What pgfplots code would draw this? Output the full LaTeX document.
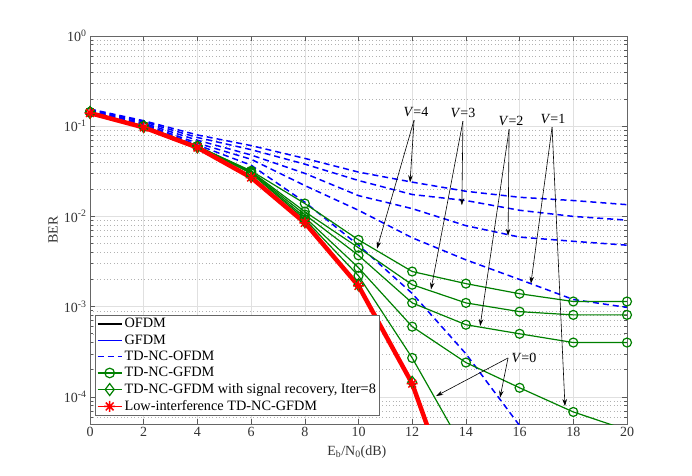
\documentclass[border=0pt]{standalone}
\usepackage{fontspec}
\setmainfont{Liberation Serif}
\usepackage{pgfplots}
\pgfplotsset{compat=1.18}
\usetikzlibrary{arrows.meta}
\definecolor{mgreen}{RGB}{0,128,0}
\definecolor{mblue}{RGB}{0,0,255}
\definecolor{mred}{RGB}{255,0,0}
\newcommand\legfont{\fontsize{14.3bp}{16bp}\selectfont}
\newcommand\tickfont{\fontsize{14bp}{16bp}\selectfont}
\pgfdeclareplotmark{mstar}{%
  \pgfpathmoveto{\pgfqpoint{-\pgfplotmarksize}{0pt}}\pgfpathlineto{\pgfqpoint{\pgfplotmarksize}{0pt}}%
  \pgfpathmoveto{\pgfqpoint{0pt}{-\pgfplotmarksize}}\pgfpathlineto{\pgfqpoint{0pt}{\pgfplotmarksize}}%
  \pgfpathmoveto{\pgfqpoint{-.707\pgfplotmarksize}{-.707\pgfplotmarksize}}\pgfpathlineto{\pgfqpoint{.707\pgfplotmarksize}{.707\pgfplotmarksize}}%
  \pgfpathmoveto{\pgfqpoint{-.707\pgfplotmarksize}{.707\pgfplotmarksize}}\pgfpathlineto{\pgfqpoint{.707\pgfplotmarksize}{-.707\pgfplotmarksize}}%
  \pgfusepathqstroke}
\begin{document}
\begin{tikzpicture}
\path[use as bounding box] (0,0) rectangle (692bp,476bp);
\begin{axis}[
  at={(90bp,52bp)}, anchor=south west,
  scale only axis, width=537bp, height=388bp,
  xmin=0, xmax=20, ymode=log, ymin=5e-5, ymax=1,
  xtick={0,2,...,20},
  ytick={1e-4,1e-3,1e-2,1e-1,1},
  yticklabels={10\textsuperscript{-4},10\textsuperscript{-3},10\textsuperscript{-2},10\textsuperscript{-1},10\textsuperscript{0}},
  minor ytick={6e-5,7e-5,8e-5,9e-5,2e-4,3e-4,4e-4,5e-4,6e-4,7e-4,8e-4,9e-4,2e-3,3e-3,4e-3,5e-3,6e-3,7e-3,8e-3,9e-3,2e-2,3e-2,4e-2,5e-2,6e-2,7e-2,8e-2,9e-2,0.2,0.3,0.4,0.5,0.6,0.7,0.8,0.9},
  /pgf/number format/assume math mode=true,
  xticklabel style={font=\tickfont, black!80},
  yticklabel style={font=\tickfont, black!80},
  grid=both,
  major grid style={black!12, line width=0.6bp},
  minor grid style={black!30, line width=0.5bp, dash pattern=on 0.8bp off 2.6bp},
  tick align=inside,
  major tick length=5bp, minor tick length=3bp,
  every tick/.style={black!65, line width=0.6bp},
  axis line style={black!60, line width=0.7bp},
  xlabel={E\textsubscript{b}/N\textsubscript{0}(dB)},
  ylabel={BER},
  xlabel style={font=\tickfont, black!80, at={(axis description cs:0.497,-0.072)}, anchor=center},
  ylabel style={font=\tickfont, black!80, at={(axis description cs:-0.069,0.5)}, anchor=center, rotate=0},
  legend style={at={(axis description cs:0.0093,0.0206)}, anchor=south west,
    draw=black!60, line width=0.6bp,
    row sep=1.4bp, inner sep=1.5bp, cells={anchor=west}, nodes={font=\legfont}},
  legend image code/.code={\draw[mark repeat=2,mark phase=2] plot coordinates {(0bp,0bp)(12bp,0bp)(24bp,0bp)};},
]
% TD-NC-OFDM, V=0..4
\pgfplotsset{bdash/.style={mblue, line width=1.5bp, dash pattern=on 6bp off 4bp, forget plot}}
\addplot[bdash] coordinates {(0,0.155)(2,0.115)(4,0.080)(6,0.061)(8,0.044)(10,0.031)(12,0.024)(14,0.019)(16,0.0163)(18,0.015)(20,0.0135)};
\addplot[bdash] coordinates {(0,0.153)(2,0.112)(4,0.075)(6,0.055)(8,0.038)(10,0.025)(12,0.0175)(14,0.015)(16,0.0117)(18,0.0100)(20,0.0091)};
\addplot[bdash] coordinates {(0,0.150)(2,0.108)(4,0.070)(6,0.048)(8,0.030)(10,0.017)(12,0.0122)(14,0.0079)(16,0.0059)(18,0.0053)(20,0.0048)};
\addplot[bdash] coordinates {(0,0.148)(2,0.105)(4,0.065)(6,0.043)(8,0.022)(10,0.0117)(12,0.0058)(14,0.0033)(16,0.0020)(18,0.0012)(20,0.00098)};
\addplot[bdash] coordinates {(0,0.146)(2,0.102)(4,0.062)(6,0.037)(8,0.0144)(10,0.0048)(12,0.0014)(14,0.0003)(16,0.000048)(18,0.000005)};
% TD-NC-GFDM, V=0..4
\pgfplotsset{gcirc/.style={mgreen, line width=1.2bp, mark=o, mark size=4.5bp, mark options={solid, fill=white, line width=1.2bp}, forget plot}}
\addplot[gcirc] coordinates {(0,0.143)(2,0.1)(4,0.06)(6,0.030)(8,0.0093)(10,0.0022)(12,0.00027)(14,0.000024)};
\addplot[gcirc] coordinates {(0,0.143)(2,0.1)(4,0.06)(6,0.0305)(8,0.0098)(10,0.0027)(12,0.0006)(14,0.00024)(16,0.000126)(18,0.000068)(20,0.000043)};
\addplot[gcirc] coordinates {(0,0.143)(2,0.1)(4,0.06)(6,0.031)(8,0.0105)(10,0.0037)(12,0.0011)(14,0.00063)(16,0.0005)(18,0.0004)(20,0.0004)};
\addplot[gcirc] coordinates {(0,0.143)(2,0.1)(4,0.06)(6,0.0315)(8,0.0113)(10,0.0045)(12,0.00175)(14,0.0011)(16,0.00088)(18,0.00081)(20,0.00081)};
\addplot[gcirc] coordinates {(0,0.143)(2,0.1)(4,0.06)(6,0.032)(8,0.0139)(10,0.0055)(12,0.00245)(14,0.0018)(16,0.00139)(18,0.00114)(20,0.00114)};
% OFDM, GFDM
\addplot[black, line width=1.2bp, forget plot] coordinates {(0,0.14)(2,0.097)(4,0.058)(6,0.027)(8,0.0085)(10,0.0017)(12,0.00014)(14,0.000003)};
\addplot[mblue, line width=1.2bp, forget plot] coordinates {(0,0.14)(2,0.097)(4,0.058)(6,0.027)(8,0.0085)(10,0.0017)(12,0.00014)(14,0.000003)};
% with signal recovery
\addplot[mgreen, line width=1.2bp, mark=diamond, mark size=6bp, mark options={solid, fill=white, line width=1.2bp}, forget plot] coordinates {(0,0.142)(2,0.099)(4,0.059)(6,0.028)(8,0.0088)(10,0.00175)(12,0.000145)(14,0.0000032)};
% Low-interference
\addplot[mred, line width=4.5bp, mark=mstar, mark size=5.5bp, mark options={solid, line width=1.5bp}, forget plot] coordinates {(0,0.14)(2,0.097)(4,0.058)(6,0.027)(8,0.0085)(10,0.0017)(12,0.00014)(14,0.000003)};
% legend
\addlegendimage{black, line width=1.2bp}
\addlegendentry{OFDM}
\addlegendimage{mblue, line width=1.2bp}
\addlegendentry{GFDM}
\addlegendimage{mblue, line width=1.5bp, dash pattern=on 6bp off 4bp}
\addlegendentry{TD-NC-OFDM}
\addlegendimage{mgreen, line width=1.2bp, mark=o, mark size=4.8bp, mark options={solid, fill=white, line width=1.2bp}}
\addlegendentry{TD-NC-GFDM}
\addlegendimage{mgreen, line width=1.2bp, mark=diamond, mark size=6bp, mark options={solid, fill=white, line width=1.2bp}}
\addlegendentry{TD-NC-GFDM with signal recovery, Iter=8}
\addlegendimage{mred, line width=1.8bp, mark=mstar, mark size=5.5bp, mark options={solid, line width=1.5bp}}
\addlegendentry{Low-interference TD-NC-GFDM}
% annotations
\tikzset{ann/.style={black, line width=0.6bp, -{Stealth[length=7bp,width=4.5bp]}}}
\node[font=\tickfont] at (axis cs:12.14,0.143) {\textit{V}=4};
\node[font=\tickfont] at (axis cs:13.89,0.139) {\textit{V}=3};
\node[font=\tickfont] at (axis cs:15.68,0.114) {\textit{V}=2};
\node[font=\tickfont] at (axis cs:17.24,0.12) {\textit{V}=1};
\node[font=\tickfont] at (axis cs:16.16,0.00027) {\textit{V}=0};
\draw[ann] (axis cs:12.07,0.117) -- (axis cs:10.69,0.0044);
\draw[ann] (axis cs:12.07,0.117) -- (axis cs:11.92,0.0239);
\draw[ann] (axis cs:13.89,0.114) -- (axis cs:12.70,0.00155);
\draw[ann] (axis cs:13.89,0.114) -- (axis cs:13.85,0.0133);
\draw[ann] (axis cs:15.61,0.0926) -- (axis cs:14.53,0.00061);
\draw[ann] (axis cs:15.61,0.0926) -- (axis cs:15.57,0.0061);
\draw[ann] (axis cs:17.21,0.0977) -- (axis cs:16.42,0.0018);
\draw[ann] (axis cs:17.21,0.0977) -- (axis cs:17.69,0.000079);
\draw[ann] (axis cs:15.57,0.00027) -- (axis cs:12.89,0.000102);
\draw[ann] (axis cs:15.57,0.00027) -- (axis cs:15.27,0.000098);
\end{axis}
\end{tikzpicture}
\end{document}
